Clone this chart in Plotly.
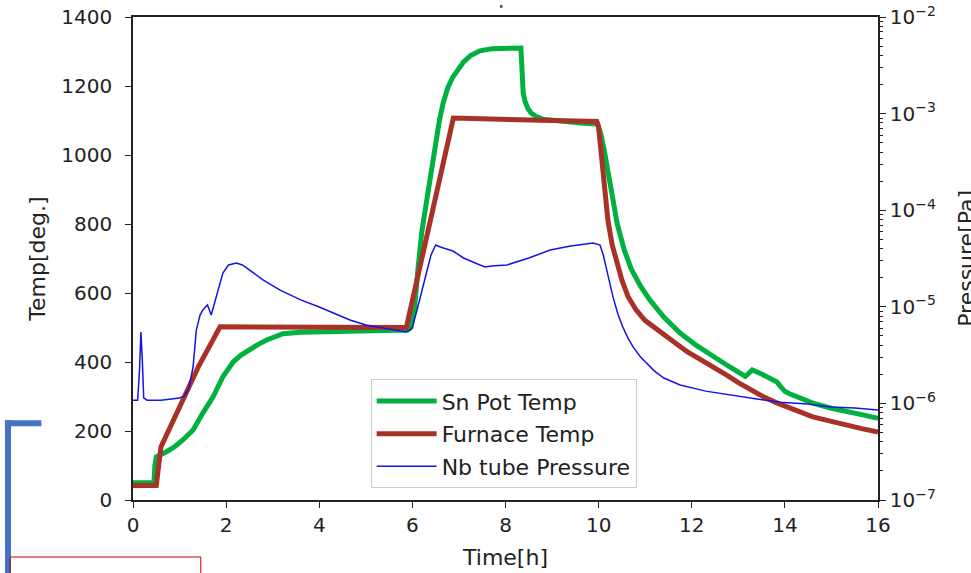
import plotly.graph_objects as go

# ---- data ----
sn_t = [0, 0.45, 0.47, 0.5, 0.72, 0.9, 1.07, 1.29, 1.5, 1.72, 1.93, 2.15, 2.32, 2.5, 2.7,
        2.87, 3.05, 3.22, 3.6, 4.0, 4.5, 5.0, 5.5, 5.9, 5.97, 6.05, 6.12, 6.2, 6.31, 6.4,
        6.5, 6.58, 6.66, 6.76, 6.87, 6.98, 7.1, 7.25, 7.45, 7.7, 8.0, 8.33, 8.35, 8.38,
        8.42, 8.48, 8.55, 8.65, 8.8, 9.2, 9.6, 9.98, 10.05, 10.12, 10.2, 10.29, 10.4,
        10.55, 10.7, 10.9, 11.1, 11.4, 11.75, 12.1, 12.46, 12.8, 13.15, 13.22, 13.3, 13.5,
        13.7, 13.83, 13.9, 14.0, 14.1, 14.3, 14.6, 15.0, 15.33, 15.7, 16.0]
sn_temp = [50, 50, 100, 125, 140, 155, 174, 203, 252, 299, 357, 400, 420, 437, 452,
           464, 475, 482, 486, 487, 489, 490, 491, 493, 500, 560, 670, 775, 870, 950,
           1040, 1100, 1150, 1195, 1226, 1250, 1270, 1288, 1302, 1308, 1310, 1310, 1260, 1180,
           1155, 1135, 1122, 1112, 1104, 1098, 1093, 1090, 1060, 1014, 950, 870, 800,
           725, 670, 620, 580, 530, 484, 448, 415, 387, 358, 368, 377, 365,
           352, 342, 330, 315, 308, 297, 281, 266, 255, 246, 237]

fur_t = [0, 0.5, 0.6, 1.0, 1.4, 1.87, 3.0, 4.0, 5.0, 5.87, 6.88, 8.0, 9.0, 9.96, 10.0,
         10.05, 10.1, 10.14, 10.2, 10.29, 10.4, 10.5, 10.63, 10.8, 11.0, 11.2, 11.38, 11.65,
         11.9, 12.2, 12.46, 12.75, 13.0, 13.25, 13.53, 13.8, 14.0, 14.3, 14.6, 15.0, 15.3,
         15.65, 16.0]
fur_temp = [42, 42, 154, 268, 385, 502, 501, 500, 500, 500, 1107, 1103, 1100, 1097, 1080,
            1010, 920, 870, 810, 740, 680, 637, 590, 552, 520, 500, 484, 456,
            430, 406, 386, 362, 340, 320, 300, 283, 272, 256, 241, 228, 217,
            207, 197]

nb_t = [0, 0.1, 0.14, 0.17, 0.2, 0.23, 0.3, 0.6, 1.0, 1.1, 1.2, 1.29, 1.36, 1.44, 1.5, 1.6,
        1.68, 1.79, 1.93, 2.05, 2.22, 2.35, 2.5, 2.8, 3.16, 3.6, 4.0, 4.3, 4.66, 5.0, 5.4,
        5.86, 5.95, 6.0, 6.1, 6.25, 6.4, 6.5, 6.6, 6.87, 7.1, 7.4, 7.56, 7.7, 8.03, 8.5,
        8.96, 9.4, 9.88, 10.03, 10.1, 10.2, 10.31, 10.42, 10.52, 10.63, 10.74, 10.9, 11.03,
        11.2, 11.4, 11.75, 12.3, 12.82, 13.4, 13.9, 14.5, 14.97, 15.5, 16.0]
nb_pres = [1.08e-6, 1.08e-6, 2.22e-6, 5.48e-6, 2.81e-6, 1.14e-6, 1.08e-6, 1.08e-6, 1.14e-6,
           1.19e-6, 1.44e-6, 2.38e-6, 5.75e-6, 8.22e-6, 9.27e-6, 1.045e-5,
           8.22e-6, 1.26e-5, 2.24e-5, 2.71e-5, 2.84e-5, 2.71e-5, 2.40e-5, 1.89e-5, 1.49e-5,
           1.18e-5, 9.95e-6, 8.63e-6, 7.30e-6, 6.48e-6, 6.04e-6,
           5.48e-6, 5.75e-6, 6.18e-6, 9.27e-6, 1.76e-5, 3.44e-5, 4.36e-5, 4.16e-5, 3.78e-5,
           3.20e-5, 2.77e-5, 2.58e-5, 2.64e-5, 2.71e-5, 3.20e-5,
           3.87e-5, 4.26e-5, 4.57e-5, 4.36e-5, 3.44e-5, 2.13e-5, 1.26e-5, 8.22e-6, 6.18e-6,
           4.75e-6, 3.84e-6, 3.02e-6, 2.62e-6,
           2.16e-6, 1.83e-6, 1.55e-6, 1.34e-6, 1.22e-6, 1.11e-6, 1.03e-6, 9.86e-7, 9.18e-7,
           8.96e-7, 8.55e-7]

x_ticks = [0, 2, 4, 6, 8, 10, 12, 14, 16]
y_ticks = [0, 200, 400, 600, 800, 1000, 1200, 1400]
p_ticks = [1e-7, 1e-6, 1e-5, 1e-4, 1e-3, 1e-2]
p_labels = ["10<sup>−7</sup>", "10<sup>−6</sup>", "10<sup>−5</sup>", "10<sup>−4</sup>",
            "10<sup>−3</sup>", "10<sup>−2</sup>"]

FONT = "DejaVu Sans"
FS = 20
TS = 22
AX = "#222222"
TXT = "#222222"

fig = go.Figure()
fig.add_trace(go.Scatter(x=sn_t, y=sn_temp, mode="lines", name="Sn Pot Temp",
                         line=dict(color="#00b140", width=5), legendgroup="a"))
fig.add_trace(go.Scatter(x=fur_t, y=fur_temp, mode="lines", name="Furnace Temp",
                         line=dict(color="#a83228", width=5), legendgroup="b"))
fig.add_trace(go.Scatter(x=nb_t, y=nb_pres, mode="lines", name="Nb tube Pressure",
                         line=dict(color="#1414e6", width=1.5), yaxis="y2", legendgroup="c"))

fig.update_layout(
    width=971, height=573,
    margin=dict(l=133, r=93, t=17, b=73, autoexpand=False),
    paper_bgcolor="white", plot_bgcolor="white",
    font=dict(family=FONT, size=FS, color=TXT),
    showlegend=True,
    legend=dict(x=0.319, y=0.25, xanchor="left", yanchor="top",
                bgcolor="white", bordercolor="#cccccc", borderwidth=1,
                font=dict(family=FONT, size=TS, color=TXT),
                itemwidth=60,
                tracegroupgap=1, traceorder="grouped"),
    xaxis=dict(range=[0, 16], tickvals=x_ticks, ticktext=[str(v) for v in x_ticks],
               showgrid=False, zeroline=False, showline=True, linecolor=AX, linewidth=1.5,
               mirror=True, ticks="outside", ticklen=6, tickwidth=1.2, tickcolor=AX,
               title=dict(text="Time[h]", standoff=14, font=dict(size=TS)), automargin=False),
    yaxis=dict(range=[0, 1400], tickvals=y_ticks, ticktext=[str(v) for v in y_ticks],
               showgrid=False, zeroline=False, showline=True, linecolor=AX, linewidth=1.5,
               ticks="outside", ticklen=6, tickwidth=1.2, tickcolor=AX, ticklabelstandoff=9,
               title=dict(text="Temp[deg.]", standoff=10, font=dict(size=TS)), automargin=False),
    yaxis2=dict(type="log", range=[-7, -2], overlaying="y", side="right",
                tickvals=p_ticks, ticktext=p_labels,
                showgrid=False, zeroline=False, showline=True, linecolor=AX, linewidth=1.5,
                ticks="outside", ticklen=6, tickwidth=1.2, tickcolor=AX, ticklabelstandoff=0,
                minor=dict(ticks="outside", ticklen=3, tickcolor=AX, dtick="D1", showgrid=False),
                automargin=False),
)

# right axis title, partly cut off by the page edge as in the reference
fig.add_annotation(text="Pressure[Pa]", xref="paper", yref="paper", x=1.1185, y=0.5,
                   xanchor="center", yanchor="middle", textangle=-90, showarrow=False,
                   font=dict(family=FONT, size=TS, color=TXT))

# screenshot decorations outside the chart
fig.add_shape(type="line", xref="paper", yref="paper", x0=-0.1678, x1=-0.1678,
              y0=0.165, y1=-0.16, line=dict(color="#4472c4", width=6))
fig.add_shape(type="line", xref="paper", yref="paper", x0=-0.172, x1=-0.123,
              y0=0.159, y1=0.159, line=dict(color="#4472c4", width=6))
fig.add_shape(type="rect", xref="paper", yref="paper", x0=-0.165, x1=0.091,
              y0=-0.118, y1=-0.18, line=dict(color="#c00000", width=1))
fig.add_shape(type="rect", xref="paper", yref="paper", x0=0.4925, x1=0.496,
              y0=1.019, y1=1.025, line=dict(width=0), fillcolor="#555555")

fig.write_html("out.html")
